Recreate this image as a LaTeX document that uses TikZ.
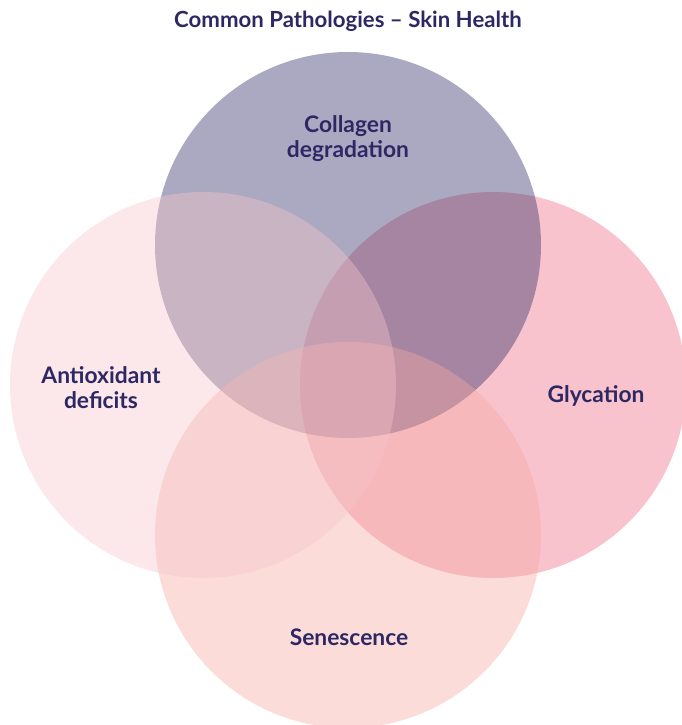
\documentclass[tikz,border=0pt]{standalone}
\usepackage{fontspec}
\setmainfont{Lato}
\usepackage{tikz}
\usetikzlibrary{positioning}
\definecolor{navy}{HTML}{2D2864}
\definecolor{pinkdeep}{HTML}{ED6982}
\definecolor{peach}{HTML}{F5A8A0}
\definecolor{blush}{HTML}{F7C5CA}

\begin{document}
\begin{tikzpicture}[
    x=0.5pt, y=-0.5pt,
    blob/.style={
        circle,
        minimum size=193pt,
        inner sep=0pt,
        fill opacity=0.4
    },
    label_txt/.style={font=\fontsize{11.4}{12.5}\selectfont\bfseries, text=navy, align=center},
    title_txt/.style={font=\fontsize{11.1}{12.5}\selectfont\bfseries, text=navy}
]
    \useasboundingbox (0,0) rectangle (682,725);
    \clip (0,0) rectangle (682,725);

    % TITLE
    \node[title_txt] (title) at (348,21) {Common Pathologies -- Skin Health};

    % CIRCLES (back to front)
    \node[blob, fill=pinkdeep] (c_glyc) at (493,385) {};
    \node[blob, fill=navy] (c_coll) at (348,245) {};
    \node[blob, fill=peach] (c_sen) at (348,535) {};
    \node[blob, fill=blush] (c_anti) at (203,385) {};

    % LABELS
    \node[label_txt] (l_coll) at (348,139) {Collagen\\degradation};
    \node[label_txt] (l_anti) at (101,388) {Antioxidant\\deficits};
    \node[label_txt] (l_glyc) at (596,396) {Glycation};
    \node[label_txt] (l_sen) at (349,637) {Senescence};

\end{tikzpicture}
\end{document}
